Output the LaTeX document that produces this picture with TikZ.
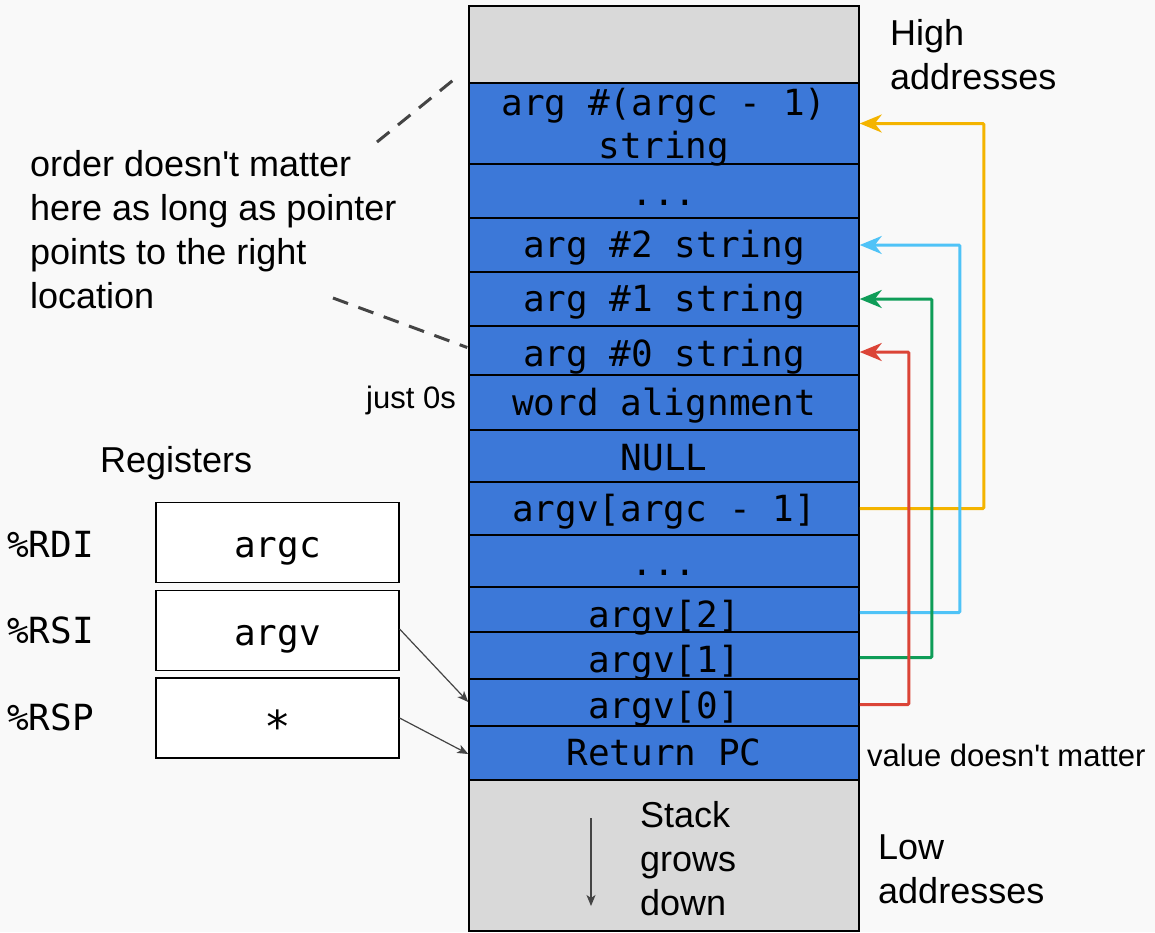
\documentclass[tikz,border=0pt]{standalone}
\usepackage{fontspec}
\setmainfont{Liberation Sans}
\setmonofont{DejaVu Sans Mono}
\usepackage{tikz}
\usetikzlibrary{arrows.meta}

\definecolor{slotblue}{HTML}{3C78D8}
\definecolor{slotgrey}{HTML}{D9D9D9}
\definecolor{pageback}{HTML}{F9F9F9}
\definecolor{ptryellow}{HTML}{F4B400}
\definecolor{ptrblue}{HTML}{4FC3F7}
\definecolor{ptrgreen}{HTML}{0F9D58}
\definecolor{ptrred}{HTML}{DB4437}
\definecolor{inkgrey}{HTML}{444444}

\begin{document}
\begin{tikzpicture}[x=1pt, y=-1pt]
    \tikzstyle{slot} = [rectangle, draw, line width=1.5pt, fill=slotblue, minimum width=390pt, inner sep=0pt]
    \tikzstyle{endslot} = [slot, fill=slotgrey]
    \tikzstyle{slottext} = [anchor=base, inner sep=0pt, font=\fontsize{36}{43}\selectfont\ttfamily]
    \tikzstyle{note} = [anchor=base west, inner sep=0pt, align=left, font=\fontsize{36}{44}\selectfont]
    \tikzstyle{aside} = [inner sep=0pt, font=\fontsize{31}{36}\selectfont]
    \tikzstyle{reg} = [rectangle, draw, line width=1.2pt, fill=white, minimum width=243pt, minimum height=80pt, inner sep=0pt, text height=34pt, text depth=5pt, font=\fontsize{36}{40}\selectfont\ttfamily]
    \tikzstyle{regname} = [anchor=base west, inner sep=0pt, font=\fontsize{36}{40}\selectfont\ttfamily]
    \tikzstyle{ptr} = [line width=3pt, rounded corners=1pt, -{Stealth[length=22pt, width=18pt, inset=7pt]}]
    \tikzstyle{thinptr} = [line width=1.2pt, inkgrey, -{Stealth[length=11pt, width=9pt, inset=3pt]}]
    \tikzstyle{callout} = [line width=3pt, inkgrey, dash pattern=on 16pt off 11pt]

    % Page
    \fill[pageback] (0,0) rectangle (1155,932);
    \useasboundingbox (0,0) rectangle (1155,932);

    % Stack slots
    \node[endslot, minimum height=77pt]  (s0)  at (664,44.5) {};
    \node[slot, minimum height=81pt]     (s1)  at (664,123.5) {};
    \node[slot, minimum height=54pt]     (s2)  at (664,191) {};
    \node[slot, minimum height=54pt]     (s3)  at (664,245) {};
    \node[slot, minimum height=54pt]     (s4)  at (664,299) {};
    \node[slot, minimum height=49pt]     (s5)  at (664,350.5) {};
    \node[slot, minimum height=55pt]     (s6)  at (664,402.5) {};
    \node[slot, minimum height=52pt]     (s7)  at (664,456) {};
    \node[slot, minimum height=53pt]     (s8)  at (664,508.5) {};
    \node[slot, minimum height=52pt]     (s9)  at (664,561) {};
    \node[slot, minimum height=45pt]     (s10) at (664,609.5) {};
    \node[slot, minimum height=47pt]     (s11) at (664,655.5) {};
    \node[slot, minimum height=47pt]     (s12) at (664,702.5) {};
    \node[slot, minimum height=54pt]     (s13) at (664,753) {};
    \node[endslot, minimum height=151pt] (s14) at (664,855.5) {};

    % Slot contents
    \node[slottext, align=center] (t1) at (664,158) {arg \#(argc - 1)\\string};
    \node[slottext] (t2)  at (664,205) {...};
    \node[slottext] (t3)  at (664,257) {arg \#2 string};
    \node[slottext] (t4)  at (664,311) {arg \#1 string};
    \node[slottext] (t5)  at (664,366) {arg \#0 string};
    \node[slottext] (t6)  at (664,415) {word alignment};
    \node[slottext] (t7)  at (664,470) {NULL};
    \node[slottext] (t8)  at (664,521) {argv[argc - 1]};
    \node[slottext] (t9)  at (664,575) {...};
    \node[slottext] (t10) at (664,627) {argv[2]};
    \node[slottext] (t11) at (664,672) {argv[1]};
    \node[slottext] (t12) at (664,718) {argv[0]};
    \node[slottext] (t13) at (664,765) {Return PC};

    % Pointers back up the stack
    \draw[ptr, ptryellow] (s8.east) -- ++(124,0) |- (s1.east);
    \draw[ptr, ptrblue] ([yshift=-3pt]s10.east) -- ++(100,0) |- (s3.east);
    \draw[ptr, ptrgreen] ([yshift=-2pt]s11.east) -- ++(72,0) |- (s4.east);
    \draw[ptr, ptrred] ([yshift=-2pt]s12.east) -- ++(49,0) |- ([yshift=-1.5pt]s5.east);

    % Side labels
    \node[note] (high) at (890,89) {High\\addresses};
    \node[note] (low) at (878,903) {Low\\addresses};
    \node[note] (grows) at (640,915) {Stack\\grows\\down};
    \node[note] (order) at (30,308) {order doesn\textquotesingle t matter\\here as long as pointer\\points to the right\\location};
    \node[aside, anchor=base east] (zeros) at (456,408) {just 0s};
    \node[aside, anchor=base west] (anyval) at (867,766) {value doesn\textquotesingle t matter};

    % Callout lines
    \coordinate (orderA) at (377,142);
    \coordinate (orderB) at (333,298);
    \draw[callout] (orderA) -- ([shift={(-14,-3)}]s1.north west);
    \draw[callout] (orderB) -- ([shift={(-1,-3)}]s5.west);

    % Growth direction
    \coordinate (growtop) at (591,818);
    \coordinate (growbot) at (591,906);
    \draw[thinptr] (growtop) -- (growbot);

    % Registers
    \node[note] (regs) at (100,472) {Registers};
    \node[reg] (r1) at (277.5,542.5) {argc};
    \node[reg] (r2) at (277.5,630.5) {argv};
    \node[reg, text height=52pt, text depth=3pt, font=\fontsize{44}{40}\selectfont\ttfamily] (r3) at (277.5,718) {*};
    \node[regname] (n1) at (7,557) {\%RDI};
    \node[regname] (n2) at (7,643) {\%RSI};
    \node[regname] (n3) at (7,730) {\%RSP};
    \draw[thinptr] ([yshift=1.5pt]r2.east) -- ([yshift=0.5pt]s12.west);
    \draw[thinptr] (r3.east) -- ([yshift=-1pt]s13.west);

\end{tikzpicture}
\end{document}
